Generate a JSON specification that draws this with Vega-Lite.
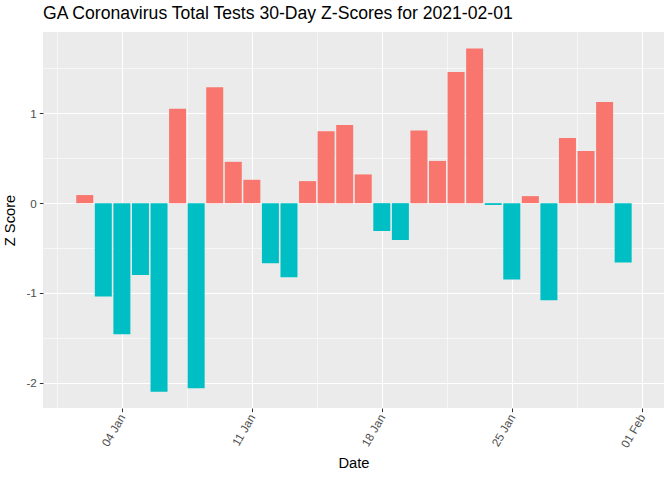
{
  "$schema": "https://vega.github.io/schema/vega-lite/v6.json",
  "autosize": {"type": "none"},
  "padding": {"left": 43, "top": 32, "right": 8, "bottom": 72},
  "width": 621,
  "height": 376,
  "background": "white",
  "title": {
    "text": "GA Coronavirus Total Tests 30-Day Z-Scores for 2021-02-01",
    "anchor": "start",
    "frame": "group",
    "font": "Liberation Sans",
    "fontSize": 17.6,
    "fontWeight": "normal",
    "color": "black",
    "offset": 9
  },
  "config": {
    "view": {"fill": "#EBEBEB", "stroke": null},
    "axis": {
      "labelFont": "Liberation Sans",
      "titleFont": "Liberation Sans",
      "labelFontSize": 11.7,
      "labelColor": "#4D4D4D",
      "titleFontSize": 14.7,
      "titleFontWeight": "normal",
      "titleColor": "black",
      "tickColor": "#333333",
      "tickSize": 3.7,
      "domain": false,
      "gridColor": "white"
    }
  },
  "data": {
    "values": [
      {"date": "2021-01-02T00:00:00", "z": 0.09},
      {"date": "2021-01-03T00:00:00", "z": -1.04},
      {"date": "2021-01-04T00:00:00", "z": -1.46},
      {"date": "2021-01-05T00:00:00", "z": -0.80},
      {"date": "2021-01-06T00:00:00", "z": -2.10},
      {"date": "2021-01-07T00:00:00", "z": 1.05},
      {"date": "2021-01-08T00:00:00", "z": -2.06},
      {"date": "2021-01-09T00:00:00", "z": 1.29},
      {"date": "2021-01-10T00:00:00", "z": 0.46},
      {"date": "2021-01-11T00:00:00", "z": 0.26},
      {"date": "2021-01-12T00:00:00", "z": -0.67},
      {"date": "2021-01-13T00:00:00", "z": -0.825},
      {"date": "2021-01-14T00:00:00", "z": 0.245},
      {"date": "2021-01-15T00:00:00", "z": 0.80},
      {"date": "2021-01-16T00:00:00", "z": 0.87},
      {"date": "2021-01-17T00:00:00", "z": 0.32},
      {"date": "2021-01-18T00:00:00", "z": -0.31},
      {"date": "2021-01-19T00:00:00", "z": -0.41},
      {"date": "2021-01-20T00:00:00", "z": 0.81},
      {"date": "2021-01-21T00:00:00", "z": 0.47},
      {"date": "2021-01-22T00:00:00", "z": 1.46},
      {"date": "2021-01-23T00:00:00", "z": 1.72},
      {"date": "2021-01-24T00:00:00", "z": -0.02},
      {"date": "2021-01-25T00:00:00", "z": -0.85},
      {"date": "2021-01-26T00:00:00", "z": 0.078},
      {"date": "2021-01-27T00:00:00", "z": -1.08},
      {"date": "2021-01-28T00:00:00", "z": 0.725},
      {"date": "2021-01-29T00:00:00", "z": 0.58},
      {"date": "2021-01-30T00:00:00", "z": 1.126},
      {"date": "2021-01-31T00:00:00", "z": -0.66}
    ]
  },
  "layer": [
    {
      "mark": {"type": "point", "opacity": 0},
      "encoding": {
        "x": {
          "field": "date",
          "type": "temporal",
          "scale": {
            "domain": [
              {"year": 2020, "month": 12, "date": 31, "hours": 0, "minutes": 29},
              {"year": 2021, "month": 2, "date": 1, "hours": 22, "minutes": 19}
            ],
            "nice": false
          },
          "axis": {
            "orient": "top",
            "values": [
              {"year": 2020, "month": 12, "date": 31, "hours": 12},
              {"year": 2021, "month": 1, "date": 7, "hours": 12},
              {"year": 2021, "month": 1, "date": 14, "hours": 12},
              {"year": 2021, "month": 1, "date": 21, "hours": 12},
              {"year": 2021, "month": 1, "date": 28, "hours": 12}
            ],
            "labels": false,
            "ticks": false,
            "title": null,
            "grid": true,
            "gridWidth": 0.55
          }
        },
        "y": {
          "field": "z",
          "type": "quantitative",
          "scale": {"domain": [-2.28, 1.905], "nice": false, "zero": false},
          "axis": {
            "orient": "right",
            "values": [-1.5, -0.5, 0.5, 1.5],
            "labels": false,
            "ticks": false,
            "title": null,
            "grid": true,
            "gridWidth": 0.55
          }
        }
      }
    },
    {
      "mark": {"type": "bar", "width": 17},
      "encoding": {
        "x": {
          "field": "date",
          "type": "temporal",
          "axis": {
            "orient": "bottom",
            "values": [
              {"year": 2021, "month": 1, "date": 4},
              {"year": 2021, "month": 1, "date": 11},
              {"year": 2021, "month": 1, "date": 18},
              {"year": 2021, "month": 1, "date": 25},
              {"year": 2021, "month": 2, "date": 1}
            ],
            "format": "%d %b",
            "labelAngle": -60,
            "labelAlign": "right",
            "labelBaseline": "middle",
            "labelPadding": 3,
            "title": "Date",
            "titlePadding": 6,
            "grid": true,
            "gridWidth": 1.1
          }
        },
        "y": {
          "field": "z",
          "type": "quantitative",
          "axis": {
            "orient": "left",
            "values": [-2, -1, 0, 1],
            "labelExpr": "datum.value + ''",
            "labelPadding": 3,
            "title": "Z Score",
            "titlePadding": 8,
            "grid": true,
            "gridWidth": 1.1
          }
        },
        "color": {
          "condition": {"test": "datum.z > 0", "value": "#F8766D"},
          "value": "#00BFC4"
        }
      }
    }
  ],
  "resolve": {"axis": {"x": "independent", "y": "independent"}}
}
